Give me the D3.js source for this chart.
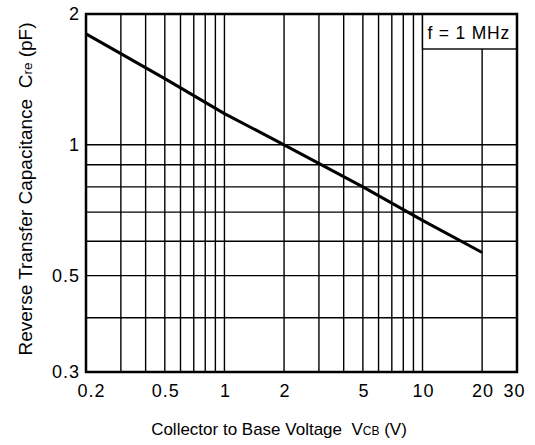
<!DOCTYPE html>
<html>
<head>
<meta charset="utf-8">
<script src="https://cdn.jsdelivr.net/npm/d3@7"></script>
<style>
  html, body { margin: 0; padding: 0; background: #fff; }
  svg { display: block; }
  text { font-family: Arial, "Liberation Sans", Helvetica, sans-serif; fill: #000; white-space: pre; }
</style>
</head>
<body>
<svg id="chart" width="535" height="445"></svg>
<script>
// Reverse transfer capacitance vs collector-to-base voltage (f = 1 MHz)
const voltage = [0.2, 0.5, 1, 2, 5, 10, 20];
const capacitance = [1.80, 1.42, 1.18, 1.00, 0.80, 0.67, 0.565];

const xTicks = [0.2, 0.5, 1, 2, 5, 10, 20, 30];
const yTicks = [0.3, 0.5, 1, 2];
const xGrid = [0.3, 0.4, 0.5, 0.6, 0.7, 0.8, 0.9, 1, 2, 3, 4, 5, 6, 7, 8, 9, 10, 20];
const yGrid = [0.4, 0.5, 0.6, 0.7, 0.8, 0.9, 1];
const xDomain = [0.2, 30];
const yDomain = [0.3, 2];
const legendText = "f = 1 MHz";
const legendEdgeV = 10;

const plot = { left: 86, right: 517, top: 14, bottom: 372 };
const legendBottom = 49;

const svg = d3.select("#chart");

const x = d3.scaleLog().domain(xDomain).range([plot.left, plot.right]);
const y = d3.scaleLog().domain(yDomain).range([plot.bottom, plot.top]);

// grid
const grid = svg.append("g").attr("stroke", "#000").attr("stroke-width", 1.4);
grid.selectAll("line.v").data(xGrid).join("line")
  .attr("class", "v")
  .attr("x1", d => x(d)).attr("x2", d => x(d))
  .attr("y1", d => d > legendEdgeV ? legendBottom : plot.top)
  .attr("y2", plot.bottom);
grid.selectAll("line.h").data(yGrid).join("line")
  .attr("class", "h")
  .attr("x1", plot.left).attr("x2", plot.right)
  .attr("y1", d => y(d)).attr("y2", d => y(d));

// legend box in the top-right corner
svg.append("rect")
  .attr("x", x(legendEdgeV)).attr("y", plot.top)
  .attr("width", plot.right - x(legendEdgeV)).attr("height", legendBottom - plot.top)
  .attr("fill", "#fff").attr("stroke", "#000").attr("stroke-width", 1.4);
svg.append("text")
  .attr("x", x(legendEdgeV) + 5).attr("y", 39)
  .attr("font-size", 17.5).attr("letter-spacing", "0.8px")
  .text(legendText);

// curve
const line = d3.line()
  .x((d, i) => x(voltage[i]))
  .y(d => y(d));
svg.append("path")
  .datum(capacitance)
  .attr("fill", "none").attr("stroke", "#000").attr("stroke-width", 3)
  .attr("stroke-linecap", "butt")
  .attr("d", line);

// frame
svg.append("rect")
  .attr("x", plot.left).attr("y", plot.top)
  .attr("width", plot.right - plot.left).attr("height", plot.bottom - plot.top)
  .attr("fill", "none").attr("stroke", "#000").attr("stroke-width", 2.5);

// x axis labels
const xAxis = d3.axisBottom(x).tickValues(xTicks).tickSize(0).tickPadding(12)
  .tickFormat(d3.format("~g"));
const gx = svg.append("g").attr("transform", `translate(0,${plot.bottom})`).call(xAxis);
gx.select(".domain").remove();
gx.selectAll("text")
  .attr("font-size", 18).attr("font-family", null).attr("letter-spacing", "1px")
  .attr("dx", d => d === xTicks[0] ? 5 : d === xTicks[xTicks.length - 1] ? -3 : 0.5);

// y axis labels
const yAxis = d3.axisLeft(y).tickValues(yTicks).tickSize(0).tickPadding(6)
  .tickFormat(d3.format("~g"));
const gy = svg.append("g").attr("transform", `translate(${plot.left},0)`).call(yAxis);
gy.select(".domain").remove();
gy.selectAll("text")
  .attr("font-size", 18).attr("font-family", null).attr("letter-spacing", "1px");

// axis titles
const xt = svg.append("text")
  .attr("x", 279).attr("y", 435).attr("text-anchor", "middle").attr("font-size", 17);
xt.append("tspan").text("Collector to Base Voltage  V");
xt.append("tspan").attr("font-size", 12).text("CB");
xt.append("tspan").text(" (V)");

const yt = svg.append("text")
  .attr("transform", "translate(32,189) rotate(-90)")
  .attr("text-anchor", "middle").attr("font-size", 19);
yt.append("tspan").text("Reverse Transfer Capacitance  C");
yt.append("tspan").attr("font-size", 13.5).text("re");
yt.append("tspan").text(" (pF)");
</script>
</body>
</html>
